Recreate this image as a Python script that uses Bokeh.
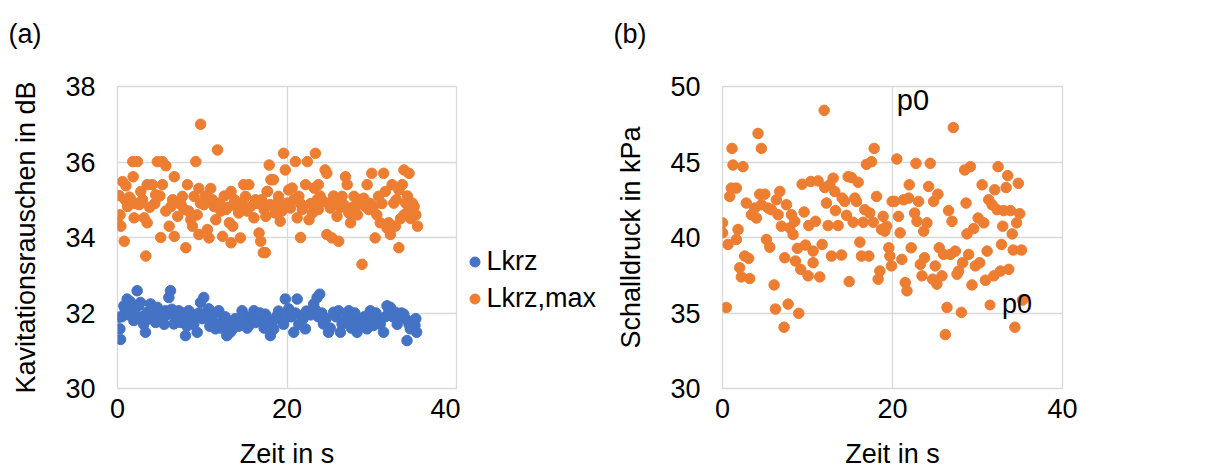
from bokeh.plotting import figure
from bokeh.layouts import row
from bokeh.models import Range1d, FixedTicker, Legend, LegendItem, Label, Title
from bokeh.embed import file_html
from bokeh.resources import INLINE

# ---------------- data ----------------
# (a) Lkrz  (time in s, level in dB)
lkrz_t = [0.16, 0.36, 0.28, 0.75, 1.14, 1.93, 1.73, 2.32, 2.71, 3.3, 3.5, 3.9, 4.3, 4.7, 5.27, 5.66,
          6.06, 6.25, 6.64, 7.23, 7.62, 8.02, 8.41, 8.8, 9.4, 9.8, 10.18, 10.77, 11.16, 11.56, 11.95,
          12.5, 12.9, 13.3, 13.7, 14.1, 14.7, 15.1, 15.5, 16.1, 16.5, 17.06, 17.45, 18.04, 18.44,
          18.83, 19.42, 19.8, 20.2, 20.8, 21.2, 21.6, 22.17, 22.56, 23.15, 23.55, 23.86, 24.3, 24.9,
          25.5, 26.1, 26.3, 26.9, 27.3, 27.87, 28.26, 28.85, 29.44, 29.83, 30.2, 30.8, 31.4, 31.8,
          32.2, 32.8, 33.2, 33.77, 34.16, 34.55, 34.95, 35.3, 35.1,
          0.5, 0.9, 1.3, 1.5, 2.0, 2.5, 2.9, 3.1, 3.7, 4.1, 4.5, 4.9, 5.1, 5.5, 5.9, 6.4, 6.9, 7.4,
          7.9, 8.2, 8.6, 9.0, 9.2, 9.6, 10.0, 10.4, 10.9, 11.3, 11.8, 12.2, 12.7, 13.1, 13.5, 13.9,
          14.3, 14.9, 15.3, 15.8, 16.3, 16.8, 17.3, 17.7, 18.2, 18.6, 19.0, 19.6, 20.0, 20.5, 21.0,
          21.4, 21.9, 22.3, 22.8, 23.3, 23.7, 24.1, 24.6, 25.1, 25.8, 26.5, 27.1, 27.6, 28.0, 28.5,
          29.1, 29.6, 30.0, 30.5, 31.0, 31.6, 32.0, 32.5, 33.0, 33.5, 34.0, 34.4, 34.8, 35.2]
lkrz_v = [31.89, 31.3, 31.58, 32.19, 32.37, 31.8, 32.19, 32.59, 32.28, 31.49, 32.02, 32.24, 31.93,
          32.15, 31.8, 32.06, 32.41, 32.59, 31.71, 32.06, 31.8, 31.4, 32.06, 31.8, 31.49, 32.28, 32.41,
          32.11, 31.8, 31.58, 32.06, 31.84, 31.4, 31.49, 31.67, 31.8, 32.06, 31.84, 31.67, 32.06, 31.93,
          31.8, 31.97, 31.4, 31.58, 31.93, 31.8, 32.37, 32.11, 31.49, 32.37, 31.93, 31.58, 32.02, 32.24,
          32.41, 32.5, 31.71, 31.49, 32.02, 32.06, 31.49, 31.8, 32.06, 31.8, 31.49, 31.8, 31.58, 32.06,
          31.67, 31.84, 31.49, 32.19, 32.15, 32.02, 31.84, 31.97, 31.27, 31.58, 31.8, 31.49, 31.67,
          31.9, 32.1, 31.95, 32.3, 32.0, 32.2, 31.9, 31.7, 31.85, 32.1, 31.75, 32.0, 31.9, 31.7, 31.95,
          32.1, 31.9, 31.75, 32.0, 31.65, 31.9, 31.7, 31.95, 32.0, 31.85, 32.0, 31.65, 31.95, 31.7, 31.6,
          31.9, 31.7, 31.55, 31.85, 31.65, 31.95, 31.6, 31.9, 31.75, 32.0, 31.6, 31.85, 31.7, 31.85,
          32.05, 31.7, 31.9, 31.9, 32.0, 31.7, 31.85, 32.05, 31.95, 32.1, 31.9, 32.0, 31.85, 31.6, 31.9,
          31.7, 31.9, 31.6, 32.0, 31.7, 31.9, 31.8, 31.9, 32.0, 31.7, 31.9, 32.1, 31.9, 31.7, 32.0,
          31.85, 31.7, 31.6, 31.85]

# (a) Lkrz,max
lmax_t = [0.2, 0.0, 0.4, 0.8, 0.6, 1.0, 1.85, 1.8, 2.35, 1.4, 1.2, 1.6, 2.75, 2.95, 2.55, 1.96, 3.14,
          3.5, 3.34, 3.5, 4.1, 4.5, 4.7, 5.3, 5.7, 5.3, 5.1, 5.7, 6.1, 6.3, 6.7, 6.7, 7.1, 7.66, 7.86,
          7.5, 8.25, 8.06, 8.65, 8.84, 9.24, 9.04, 9.6, 9.8, 9.8, 10.2, 9.6, 10.6, 11.0, 10.8, 11.8,
          11.4, 12.0, 12.2, 11.6, 12.4, 12.8, 13.2, 13.4, 13.6, 13.4, 13.8, 14.0, 14.3, 14.5, 14.9,
          15.1, 15.5, 15.7, 16.1, 16.3, 16.7, 16.9, 17.2, 17.3, 17.7, 17.9, 18.1, 17.5,
          18.4, 18.0, 17.65, 18.6, 19.2, 17.45, 19.6, 19.8, 19.0, 20.2, 20.6, 20.0, 20.4, 20.99, 21.2,
          21.4, 21.6, 21.8, 22.2, 22.4, 22.6, 23.0, 23.2, 23.35, 23.7, 23.7, 23.55, 24.5, 24.7, 24.3,
          24.7, 25.3, 25.1, 25.7, 25.9, 26.1, 26.5, 26.7, 26.9, 27.1, 27.3, 27.5, 27.9, 28.1, 28.5,
          28.85, 29.05, 29.25, 29.45, 29.65, 30.0, 30.2, 30.4, 30.8, 31.0, 31.4, 31.6, 31.8, 32.0,
          32.2, 32.4, 32.6, 32.8, 33.2, 33.2, 33.6, 33.8, 34.4, 34.0, 34.4, 34.8, 35.0, 35.2, 35.4, 33.8,
          0.3, 0.9, 2.1, 3.8, 4.4, 5.0, 6.5, 7.3, 8.4, 9.4, 10.4, 11.2, 12.6, 13.0, 14.7, 15.3, 16.5,
          17.0, 18.8, 19.4, 20.8, 21.6, 22.8, 23.9, 24.9, 25.5, 26.3, 27.7, 28.3, 29.8, 30.6, 31.2,
          32.9, 33.4, 34.2, 34.6]
lmax_v = [35.11, 34.4, 34.3, 33.9, 35.48, 35.37, 35.61, 36.01, 36.01, 35.07, 34.82, 35.0, 35.22, 35.0,
          34.87, 34.52, 34.52, 34.39, 33.51, 35.4, 35.4, 35.13, 36.01, 36.01, 35.9, 35.4, 34.0, 34.7,
          34.3, 34.82, 35.61, 34.03, 34.56, 35.09, 34.74, 34.87, 35.4, 33.73, 34.47, 34.3, 36.01, 35.09,
          35.3, 37.0, 34.91, 34.87, 34.08, 34.21, 35.3, 33.99, 36.32, 34.82, 34.91, 34.7, 34.47, 34.03,
          34.74, 34.39, 35.22, 34.3, 33.86, 35.0, 34.82, 34.65, 33.99, 35.4, 35.09, 35.4, 34.82, 34.52,
          35.0, 34.12, 33.9, 33.6, 34.74, 35.22, 35.92, 35.53, 34.56,
          35.53, 34.87, 35.22, 34.65, 34.43, 33.6, 36.23, 35.79, 35.09, 35.26, 35.31, 34.91, 34.78,
          36.01, 34.52, 35.09, 34.0, 34.74, 35.4, 36.01, 34.47, 34.65, 35.31, 36.23, 34.74, 35.4, 35.0,
          35.79, 35.7, 34.96, 34.08, 33.99, 34.78, 34.96, 34.56, 33.9, 35.09, 34.87, 35.61, 35.4, 34.65,
          34.39, 35.09, 34.82, 35.0, 33.29, 35.04, 34.82, 35.4, 34.74, 35.7, 34.82, 33.99, 35.09, 34.39,
          35.7, 35.22, 34.25, 34.39, 34.08, 35.4, 34.91, 34.3, 33.73, 35.26, 35.4, 35.79, 35.7, 34.91,
          34.74, 34.91, 34.82, 34.6, 34.3, 34.6,
          34.6, 35.0, 34.9, 34.8, 34.9, 35.1, 35.0, 34.9, 34.7, 34.6, 35.1, 35.0, 35.1, 34.8, 34.9, 34.7,
          34.9, 35.0, 34.9, 34.7, 35.0, 34.9, 34.9, 35.1, 34.9, 35.1, 34.8, 34.8, 34.6, 34.9, 34.6, 34.9,
          35.0, 34.5, 35.1, 34.5]

# (b) p0 (time in s, sound pressure in kPa)
p0_t = [0.0, 0.0, 0.45, 0.65, 0.85, 1.12, 1.24, 1.04, 1.63, 1.83, 1.63, 2.02, 2.22, 2.41, 2.61, 2.8,
        3.08, 3.2, 3.4, 3.79, 3.99, 4.18, 4.38, 4.57, 4.57, 4.97, 5.17, 5.36, 5.56, 5.75, 6.07, 6.23,
        6.34, 6.54, 6.74, 6.93, 7.24, 7.32, 7.52, 7.72, 7.91, 8.11, 8.3, 8.5, 8.58, 8.81, 8.97, 9.2,
        9.36, 9.6, 9.76, 10.07, 10.15, 10.39, 10.66, 10.66, 10.94, 11.25, 11.44, 11.72, 11.96, 12.03,
        12.23, 12.42, 12.62, 12.82, 13.02, 13.21, 13.29, 13.6, 14.0, 14.08, 14.39, 14.59, 14.78, 14.9,
        15.17, 15.37, 15.57, 15.76, 15.96, 16.16, 16.35, 16.55, 16.74, 16.94, 17.22, 17.33, 17.53,
        17.73, 17.84, 18.12, 18.31, 18.51, 18.71, 18.9, 19.1, 19.3, 19.57, 19.69, 19.88, 19.96,
        20.24, 20.51, 20.71, 20.9, 21.1, 21.3, 21.5, 21.7, 21.9, 21.97, 22.2, 22.6, 22.76, 22.88,
        23.07, 23.27, 23.47, 23.67, 23.77, 24.05, 24.25, 24.44, 24.72, 24.83, 25.03, 25.22, 25.34,
        25.5, 25.82, 26.01, 26.21, 26.41, 26.6, 26.8, 27.0, 27.15, 27.39, 27.59, 27.78, 28.1, 28.25,
        28.49, 28.65, 28.76, 28.96, 29.16, 29.35, 29.55, 29.75, 30.07, 30.26, 30.54, 30.74, 30.93,
        31.13, 31.32, 31.72, 31.92, 32.03, 32.31, 32.42, 32.7, 32.82, 32.97, 33.09, 33.37, 33.56,
        33.68, 33.88, 34.08, 34.2, 34.4, 34.6, 34.8, 34.97, 35.17, 35.3]
p0_v = [40.97, 40.31, 35.37, 39.54, 42.72, 45.9, 44.8, 43.27, 43.27, 40.53, 39.87, 38.0, 37.39, 44.69,
        38.77, 42.28, 38.62, 37.28, 41.51, 41.95, 41.29, 46.89, 42.87, 45.9, 42.17, 42.87, 39.87, 41.95,
        39.36, 41.84, 36.86, 35.26, 42.5, 41.51, 43.05, 40.75, 34.06, 38.66, 42.17, 35.59, 40.64, 41.51,
        40.2, 41.07, 38.44, 39.28, 34.98, 37.89, 43.53, 41.69, 39.5, 37.46, 40.79, 43.71, 39.1, 38.33,
        41.07, 43.75, 37.39, 39.54, 48.42, 43.31, 42.28, 40.79, 43.49, 38.77, 43.93, 43.05, 41.78, 40.79,
        38.84, 42.61, 42.39, 41.47, 44.03, 37.08, 43.97, 41.01, 42.61, 42.39, 43.66, 39.69, 38.77, 41.01,
        41.84, 44.85, 38.77, 41.62, 45.02, 41.01, 45.9, 42.72, 37.24, 37.78, 40.53, 41.4, 40.42, 40.75,
        39.32, 38.77, 38.12, 42.39,
        42.39, 45.2, 41.4, 40.31, 38.55, 42.5, 37.02, 36.47, 42.61, 43.49, 39.32, 41.62, 44.91, 41.07,
        42.39, 38.22, 37.46, 40.42, 38.66, 40.97, 43.38, 44.91, 37.24, 42.39, 38.12, 36.91, 42.87, 39.32,
        37.46, 38.88, 33.57, 35.37, 41.78, 38.88, 41.07, 47.28, 39.1, 37.57, 37.78, 35.04, 38.33, 44.47,
        42.28, 40.24, 38.88, 44.69, 36.86, 40.59, 38.12, 41.29, 38.33, 43.49, 40.97, 37.17, 39.1, 42.5,
        42.17, 37.46, 43.16, 41.84, 44.69, 37.78, 39.54, 40.75, 41.78, 43.31, 44.1, 37.89, 41.78, 40.24,
        39.17, 34.06, 40.97, 43.59, 41.58, 39.17, 35.86]

x_ticks = [0, 20, 40]
a_ticks = [30, 32, 34, 36, 38]
b_ticks = [30, 35, 40, 45, 50]

BLUE = "#4472C4"
ORANGE = "#ED7D31"
GRID = "#D9D9D9"
FONT = "Liberation Sans"
TXT = "#000000"
FS = "27px"


def base_fig(width, ylo, yhi, yticks, ylabel, b_left, b_right, tag):
    p = figure(width=width, height=471, output_backend="svg", toolbar_location=None,
               x_range=Range1d(0, 40), y_range=Range1d(ylo, yhi),
               min_border_left=b_left, min_border_right=b_right,
               min_border_top=86, min_border_bottom=81, title=tag)
    # panel tag (outer title)
    p.title.align = "left"
    p.title.offset = -109
    p.title.standoff = 0
    p.title.text_font = FONT
    p.title.text_font_size = FS
    p.title.text_font_style = "normal"
    p.title.text_color = TXT
    # spacer title between the tag and the frame
    spacer = Title(text=" ", text_font_size="1px", standoff=35)
    p.add_layout(spacer, "above")
    p.outline_line_color = GRID
    p.outline_line_width = 1.3
    p.background_fill_color = "white"
    p.border_fill_color = "white"
    p.xaxis.ticker = FixedTicker(ticks=x_ticks)
    p.yaxis.ticker = FixedTicker(ticks=yticks)
    for g in (p.xgrid, p.ygrid):
        g.grid_line_color = GRID
        g.grid_line_width = 1.3
    for ax in (p.xaxis, p.yaxis):
        ax.axis_line_color = None
        ax.major_tick_line_color = None
        ax.minor_tick_line_color = None
        ax.major_tick_out = 0
        ax.major_tick_in = 0
        ax.major_label_text_font = FONT
        ax.major_label_text_font_size = FS
        ax.major_label_text_color = TXT
        ax.axis_label_text_font = FONT
        ax.axis_label_text_font_size = FS
        ax.axis_label_text_font_style = "normal"
        ax.axis_label_text_color = TXT
    p.xaxis.axis_label = "Zeit in s"
    p.xaxis.major_label_standoff = 10
    p.xaxis.axis_label_standoff = 18
    p.yaxis.axis_label = ylabel
    p.yaxis.major_label_standoff = 22
    p.yaxis.axis_label_standoff = 21
    return p


def one_legend(label, renderer, x, y):
    lg = Legend(items=[LegendItem(label=label, renderers=[renderer])], location=(x, y))
    lg.padding = 0
    lg.margin = 0
    lg.spacing = 0
    lg.border_line_color = None
    lg.background_fill_alpha = 0
    lg.glyph_width = 25
    lg.glyph_height = 25
    lg.label_height = 30
    lg.label_standoff = 0
    lg.label_text_font = FONT
    lg.label_text_font_size = FS
    lg.label_text_color = TXT
    lg.label_text_baseline = "middle"
    return lg


# ---------- (a) ----------
pa = base_fig(460, 30, 38, a_ticks, "Kavitationsrauschen in dB", 117, 4, "(a)")
pa.scatter(lmax_t, lmax_v, size=10.5, fill_color=ORANGE, line_color=ORANGE)
pa.scatter(lkrz_t, lkrz_v, size=10.5, fill_color=BLUE, line_color=BLUE)

# legend of (a), drawn in its own small canvas to the right of the plot
pl = figure(width=145, height=471, output_backend="svg", toolbar_location=None,
            x_axis_type=None, y_axis_type=None, x_range=Range1d(0, 1), y_range=Range1d(0, 1),
            min_border_left=0, min_border_right=0, min_border_top=86, min_border_bottom=81)
pl.outline_line_color = None
pl.background_fill_color = "white"
pl.border_fill_color = "white"
# key renderers sit outside the visible range; only their legend glyphs show
k_blue = pl.scatter([9], [9], size=10.5, fill_color=BLUE, line_color=BLUE)
k_orange = pl.scatter([9], [9], size=10.5, fill_color=ORANGE, line_color=ORANGE)
pl.add_layout(one_legend("Lkrz", k_blue, 1.5, 111.5))
pl.add_layout(one_legend("Lkrz,max", k_orange, 1.5, 74.5))

# ---------- (b) ----------
pb = base_fig(602, 30, 50, b_ticks, "Schalldruck in kPa", 117, 145, "(b)")
r_p0 = pb.scatter(p0_t, p0_v, size=10.5, fill_color=ORANGE, line_color=ORANGE)
pb.add_layout(one_legend("p0", r_p0, 255, 68.5))
pb.add_layout(Label(x=22.4, y=49.1, text="p0", text_font=FONT, text_font_size="29px",
                    text_color=TXT, text_baseline="middle", text_align="center"))

layout = row(pa, pl, pb, spacing=0)
open("out.html", "w").write(file_html(layout, INLINE))
